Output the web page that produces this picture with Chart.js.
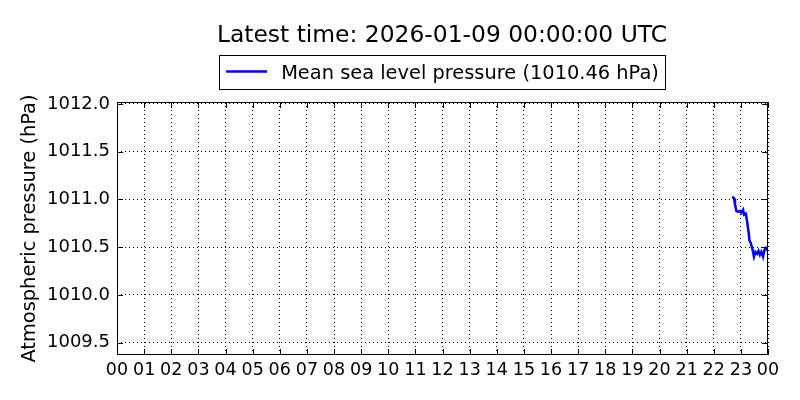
<!DOCTYPE html>
<html>
<head>
<meta charset="utf-8">
<script src="https://cdn.jsdelivr.net/npm/chart.js@4/dist/chart.umd.min.js"></script>
<style>
  body { margin: 0; background: #fff; }
  #wrap { width: 800px; height: 400px; }
</style>
</head>
<body>
<div id="wrap"><canvas id="pressureChart" width="800" height="400"></canvas></div>
<script>
var obsTimes = ['22:41', '22:45', '22:47', '22:50', '22:54', '22:58', '23:01', '23:05', '23:07',
                '23:11', '23:14', '23:17', '23:19', '23:22', '23:26', '23:29', '23:32', '23:36',
                '23:39', '23:42', '23:45', '23:49', '23:52', '23:55', '23:59'];
var pressure = [1011.03, 1011.01, 1010.95, 1010.88, 1010.87, 1010.88, 1010.86, 1010.89, 1010.84,
                1010.85, 1010.76, 1010.66, 1010.57, 1010.54, 1010.47, 1010.40, 1010.45, 1010.43,
                1010.46, 1010.42, 1010.45, 1010.40, 1010.47, 1010.49, 1010.46];
var hourLabels = ['00', '01', '02', '03', '04', '05', '06', '07', '08', '09', '10', '11', '12',
                  '13', '14', '15', '16', '17', '18', '19', '20', '21', '22', '23', '00'];
var pressureTicks = [1009.5, 1010.0, 1010.5, 1011.0, 1011.5, 1012.0];
var chartTitle = 'Latest time: 2026-01-09 00:00:00 UTC';
var seriesLabel = 'Mean sea level pressure (1010.46 hPa)';
var yAxisLabel = 'Atmospheric pressure (hPa)';

var FONT = '"DejaVu Sans", sans-serif';

// minutes since midnight for each time string
function toMinutes(t)
{
    var parts = t.split(':');
    return parseInt(parts[0]) * 60 + parseInt(parts[1]);
}

var points = [];
for (let i = 0; i < obsTimes.length; i++)
{
    points.push({x: toMinutes(obsTimes[i]), y: pressure[i]});
}

// title, boxed legend, y label, frame and inward ticks in the matplotlib classic look
var decorPlugin = {
    id: 'decor',
    afterDraw: function(chart) {
        var ctx = chart.ctx;
        var area = chart.chartArea;
        ctx.save();

        ctx.fillStyle = '#000';
        ctx.font = '23.4px ' + FONT;
        ctx.textAlign = 'center';
        ctx.textBaseline = 'alphabetic';
        ctx.fillText(chartTitle, 442, 42);

        // legend box
        ctx.font = '19.4px ' + FONT;
        var tw = ctx.measureText(seriesLabel).width;
        var boxW = 62 + tw + 6;
        var boxX = 442 - boxW / 2;
        ctx.lineWidth = 1;
        ctx.strokeStyle = '#000';
        ctx.strokeRect(Math.round(boxX) + 0.5, 55.5, Math.round(boxW), 34);
        ctx.strokeStyle = '#0000ff';
        ctx.lineWidth = 2.5;
        ctx.beginPath();
        ctx.moveTo(boxX + 7, 71.5);
        ctx.lineTo(boxX + 48, 71.5);
        ctx.stroke();
        ctx.textAlign = 'left';
        ctx.fillText(seriesLabel, boxX + 62, 78.5);

        // y axis label
        ctx.save();
        ctx.translate(35, (area.top + area.bottom) / 2);
        ctx.rotate(-Math.PI / 2);
        ctx.textAlign = 'center';
        ctx.fillText(yAxisLabel, 0, 0);
        ctx.restore();

        // frame
        ctx.strokeStyle = '#000';
        ctx.lineWidth = 1;
        ctx.strokeRect(area.left + 0.5, area.top + 0.5, area.right - area.left - 1, area.bottom - area.top - 1);

        // inward tick marks on all four sides
        var xs = chart.scales.x, ys = chart.scales.y;
        ctx.beginPath();
        xs.ticks.forEach(function(t) {
            var px = Math.round(xs.getPixelForValue(t.value)) + 0.5;
            ctx.moveTo(px, area.bottom);
            ctx.lineTo(px, area.bottom - 6);
            ctx.moveTo(px, area.top);
            ctx.lineTo(px, area.top + 6);
        });
        ys.ticks.forEach(function(t) {
            var py = Math.round(ys.getPixelForValue(t.value)) + 0.5;
            ctx.moveTo(area.left, py);
            ctx.lineTo(area.left + 6, py);
            ctx.moveTo(area.right, py);
            ctx.lineTo(area.right - 6, py);
        });
        ctx.stroke();
        ctx.restore();
    }
};

var ctx = document.getElementById('pressureChart').getContext('2d');
var myChart = new Chart(ctx, {
    type: 'line',
    data: {
        datasets: [{
            label: seriesLabel,
            data: points,
            borderColor: '#0000ff',
            borderWidth: 2.5,
            pointRadius: 0,
            tension: 0,
            fill: false
        }]
    },
    options: {
        responsive: false,
        animation: false,
        layout: {
            padding: {left: 0, right: 32, top: 102, bottom: 0}
        },
        plugins: {
            legend: {display: false},
            title: {display: false},
            tooltip: {enabled: false}
        },
        scales: {
            x: {
                type: 'linear',
                min: 0,
                max: 1440,
                afterBuildTicks: function(scale) {
                    scale.ticks = hourLabels.map(function(h, i) { return {value: i * 60}; });
                },
                afterFit: function(scale) { scale.height = 45; },
                grid: {color: '#000', lineWidth: 1, drawTicks: false},
                border: {display: false, dash: [1, 3]},
                ticks: {
                    padding: 5,
                    maxRotation: 0,
                    autoSkip: false,
                    color: '#000',
                    font: {family: FONT, size: 17.5},
                    callback: function(value, index) { return hourLabels[index]; }
                }
            },
            y: {
                type: 'linear',
                min: 1009.37,
                max: 1012.02,
                afterBuildTicks: function(scale) {
                    scale.ticks = pressureTicks.map(function(v) { return {value: v}; });
                },
                afterFit: function(scale) { scale.width = 117; },
                grid: {color: '#000', lineWidth: 1, drawTicks: false},
                border: {display: false, dash: [1, 3]},
                ticks: {
                    padding: 7,
                    color: '#000',
                    font: {family: FONT, size: 18},
                    callback: function(value) { return value.toFixed(1); }
                }
            }
        }
    },
    plugins: [decorPlugin]
});
</script>
</body>
</html>
